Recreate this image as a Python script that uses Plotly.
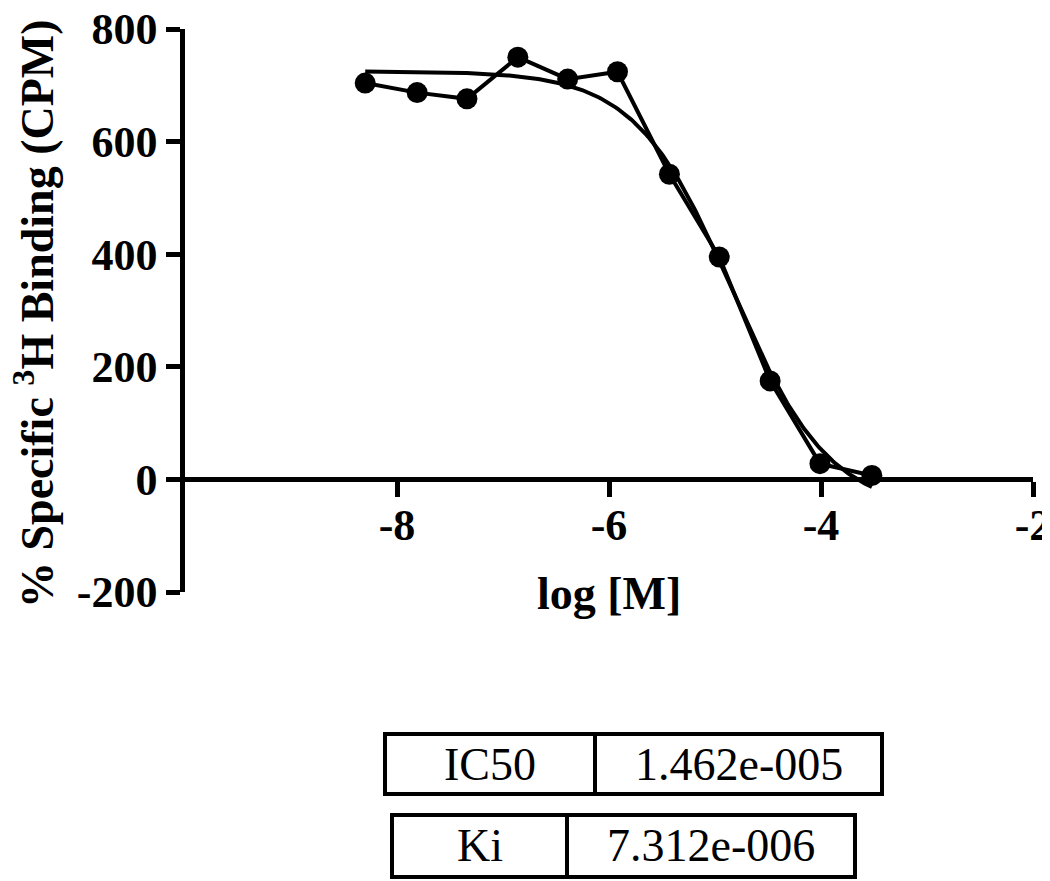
import numpy as np
import plotly.graph_objects as go

# data
log_conc = [-8.30, -7.81, -7.34, -6.86, -6.39, -5.92, -5.43, -4.96, -4.48, -4.01, -3.52]
cpm = [704, 687, 676, 750, 711, 724, 542, 395, 175, 28, 7]

x_ticks = [-8, -6, -4, -2]
x_ticktext = ["-8", "-6", "-4", "-2"]
y_ticks = [-200, 0, 200, 400, 600, 800]
y_ticktext = ["-200", "0", "200", "400", "600", "800"]

# fit parameters (one-site competition)
ic50 = 1.462e-5
ki = 7.312e-6
fit_top = 725
fit_bottom = -55
fit_hill = 0.95

table_labels = ["IC50", "Ki"]
table_values = ["1.462e-005", "7.312e-006"]

W, H = 1050, 881
OFF = 8  # page body margin
L, R, T, B = 185 - OFF, 17 + OFF, 29 - OFF, 289 + OFF
FONT = "Liberation Serif"


def px(x):
    return (x - OFF - L) / (W - L - R)


def py(y):
    return (H - B - (y - OFF)) / (H - T - B)


def sigmoid(xs):
    return fit_bottom + (fit_top - fit_bottom) / (1 + 10 ** ((xs - np.log10(ic50)) * fit_hill))


xs_fit = np.linspace(min(log_conc), max(log_conc), 300)

fig = go.Figure()
fig.add_trace(go.Scatter(x=xs_fit, y=sigmoid(xs_fit), mode="lines",
                         line=dict(color="black", width=4), showlegend=False))
fig.add_trace(go.Scatter(x=log_conc, y=cpm, mode="lines+markers",
                         line=dict(color="black", width=4),
                         marker=dict(color="black", size=21), showlegend=False))

fig.update_layout(
    width=W, height=H,
    margin=dict(l=L, r=R, t=T, b=B),
    paper_bgcolor="white", plot_bgcolor="white",
    showlegend=False,
    xaxis=dict(range=[-10, -2], showgrid=False, zeroline=False, automargin=False,
               showline=True, linecolor="black", linewidth=4.5,
               anchor="free", position=0.2,
               tickvals=x_ticks, ticktext=x_ticktext,
               ticks="outside", ticklen=15, tickwidth=4.5, tickcolor="black",
               ticklabeloverflow="allow", ticklabelstandoff=-10,
               tickfont=dict(family=FONT, size=44, color="black", weight="bold")),
    yaxis=dict(range=[-200, 800], showgrid=False, zeroline=False, automargin=False,
               showline=True, linecolor="black", linewidth=4.5,
               tickvals=y_ticks, ticktext=y_ticktext,
               ticks="outside", ticklen=14, tickwidth=4.5, tickcolor="black",
               ticklabeloverflow="allow",
               tickfont=dict(family=FONT, size=44, color="black", weight="bold")),
)

fig.add_annotation(x=px(609), y=py(593), xref="paper", yref="paper",
                   text="log [M]", showarrow=False,
                   font=dict(family=FONT, size=46, color="black", weight="bold"),
                   xanchor="center", yanchor="middle")
fig.add_annotation(x=px(34), y=py(314), xref="paper", yref="paper",
                   text="% Specific <sup>3</sup>H Binding (CPM)", showarrow=False,
                   textangle=-90,
                   font=dict(family=FONT, size=46, color="black", weight="bold"),
                   xanchor="center", yanchor="middle")

# result boxes
boxes = [(385, 595, 882, 734, 794), (392, 567, 855, 815, 877)]
for (x0, xm, x1, y0, y1), lab, val in zip(boxes, table_labels, table_values):
    fig.add_shape(type="rect", xref="paper", yref="paper",
                  x0=px(x0), x1=px(x1), y0=py(y0), y1=py(y1),
                  line=dict(color="black", width=4))
    fig.add_shape(type="line", xref="paper", yref="paper",
                  x0=px(xm), x1=px(xm), y0=py(y0), y1=py(y1),
                  line=dict(color="black", width=4))
    for cx, txt in [((x0 + xm) / 2, lab), ((xm + x1) / 2, val)]:
        fig.add_annotation(x=px(cx), y=py((y0 + y1) / 2), xref="paper", yref="paper",
                           text=txt, showarrow=False,
                           font=dict(family=FONT, size=46, color="black"),
                           xanchor="center", yanchor="middle")

fig.write_html("out.html")
